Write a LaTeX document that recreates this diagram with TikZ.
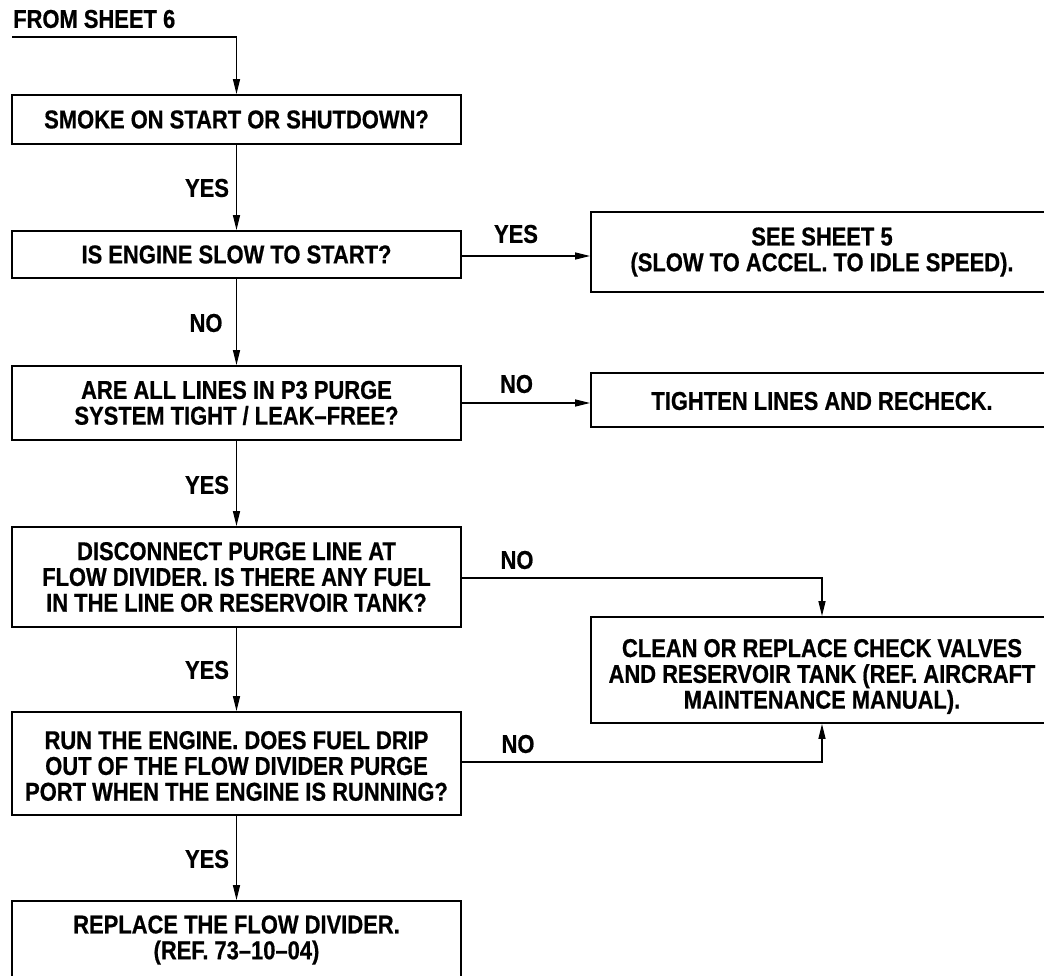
\documentclass[tikz,border=0pt]{standalone}
\usepackage{fontspec}
\setmainfont{Liberation Sans}[FakeStretch=0.85, BoldFeatures={FakeBold=0.6}]
\usetikzlibrary{arrows.meta}
\begin{document}
\begin{tikzpicture}[x=1pt,y=-1pt,
  every node/.style={font=\bfseries\fontsize{25.8}{25.8}\selectfont, inner sep=0pt},
  box/.style={draw, line width=1.8pt, minimum width=449pt},
  rbox/.style={draw, line width=1.8pt, minimum width=462pt},
  txt/.style={align=center},
  lbl/.style={},
  flow/.style={line width=1.2pt, -{Triangle[length=15pt,width=7pt]}}
]
\useasboundingbox (0,0) rectangle (1044,975);
\clip (0,0) rectangle (1044,975);

% boxes of the main column
\node[box, minimum height=49pt]  (b1) at (236.5,119.5) {};
\node[box, minimum height=47pt]  (b2) at (236.5,254.5) {};
\node[box, minimum height=74pt]  (b4) at (236.5,403) {};
\node[box, minimum height=100pt] (b6) at (236.5,577) {};
\node[box, minimum height=103pt] (b8) at (236.5,763.5) {};
\node[box, minimum height=78pt]  (b9) at (236.5,940) {};

% boxes of the right column
\node[rbox, minimum height=80pt]  (b3) at (822,252) {};
\node[rbox, minimum height=54pt]  (b5) at (822,400) {};
\node[rbox, minimum height=106pt] (b7) at (822,670) {};

% box texts
\node[txt] (t1) at (236.5,119.5) {SMOKE ON START OR SHUTDOWN?};
\node[txt] (t2) at (236.5,254.5) {IS ENGINE SLOW TO START?};
\node[txt] (t3) at (822,252) {SEE SHEET 5\\(SLOW TO ACCEL. TO IDLE SPEED).};
\node[txt] (t4) at (236.5,403) {ARE ALL LINES IN P3 PURGE\\SYSTEM TIGHT / LEAK–FREE?};
\node[txt] (t5) at (822,401) {TIGHTEN LINES AND RECHECK.};
\node[txt] (t6) at (236.5,577) {DISCONNECT PURGE LINE AT\\FLOW DIVIDER. IS THERE ANY FUEL\\IN THE LINE OR RESERVOIR TANK?};
\node[txt] (t7) at (822,676.5) {CLEAN OR REPLACE CHECK VALVES\\AND RESERVOIR TANK (REF. AIRCRAFT\\MAINTENANCE MANUAL).};
\node[txt] (t8) at (236.5,766) {RUN THE ENGINE. DOES FUEL DRIP\\OUT OF THE FLOW DIVIDER PURGE\\PORT WHEN THE ENGINE IS RUNNING?};
\node[txt] (t9) at (236.5,940) {REPLACE THE FLOW DIVIDER.\\(REF. 73–10–04)};

% entry
\node[anchor=west] (from) at (13,19) {FROM SHEET 6};
\coordinate (in) at (12,37);
\draw[flow] (in) -| (b1.north);

% main column connectors
\draw[flow] (b1) -- (b2);
\draw[flow] (b2) -- (b4);
\draw[flow] (b4) -- (b6);
\draw[flow] (b6) -- (b8);
\draw[flow] (b8) -- (b9);

% side branches
\draw[flow] ([yshift=-1.5pt]b2.east) -- ([yshift=-1.5pt]b2.east -| b3.west);
\draw[flow] (b4.east) -- (b4.east -| b5.west);
\draw[flow] ([yshift=-1pt]b6.east) -| (b7.north);
\draw[flow] ([yshift=1.5pt]b8.east) -| (b7.south);

% branch labels
\node[lbl] (l1) at (207,188) {YES};
\node[lbl] (l2) at (206,323) {NO};
\node[lbl] (l3) at (207,485) {YES};
\node[lbl] (l4) at (207,670) {YES};
\node[lbl] (l5) at (207,859) {YES};
\node[lbl] (l6) at (516,234) {YES};
\node[lbl] (l7) at (516.5,384) {NO};
\node[lbl] (l8) at (517,560) {NO};
\node[lbl] (l9) at (518,744) {NO};
\end{tikzpicture}
\end{document}
